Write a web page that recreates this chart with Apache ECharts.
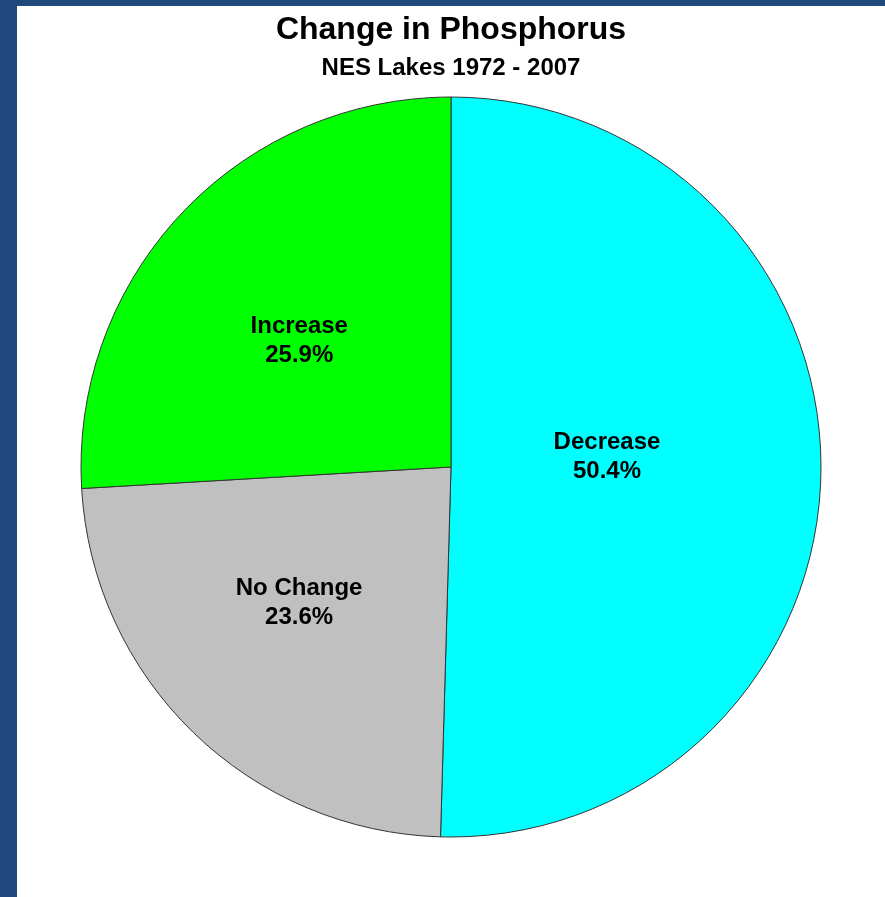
<!DOCTYPE html>
<html>
<head>
<meta charset="utf-8">
<script src="https://cdn.jsdelivr.net/npm/echarts@6/dist/echarts.min.js"></script>
<style>
  html, body { margin: 0; padding: 0; background: #1f497d; }
  #phosphorusPieChart { position: absolute; left: 17px; top: 6px; width: 868px; height: 891px; background: #fff; }
</style>
</head>
<body>
<div id="phosphorusPieChart"></div>
<script>
// 数据
const chartTitle = 'Change in Phosphorus'
const chartSubtitle = 'NES Lakes 1972 - 2007'
const categories = ['Decrease', 'No Change', 'Increase']
const percentValues = [50.4, 23.6, 25.9]
const sliceColors = ['#00ffff', '#c0c0c0', '#00ff00']
// label nudges (px) so text sits like the original
const labelNudge = [[-32, -13], [-21, 1], [-15, 3]]

const fontFamily = '"Liberation Sans", Arial, Helvetica, sans-serif'

const phosphorusPieChart = echarts.init(document.getElementById('phosphorusPieChart'))
const option = {
  animation: false,
  title: [
    {
      text: chartTitle,
      left: 'center',
      top: 3,
      textStyle: { fontFamily, fontSize: 32, fontWeight: 'bold', color: '#000' }
    },
    {
      text: chartSubtitle,
      left: 'center',
      top: 45,
      textStyle: { fontFamily, fontSize: 24, fontWeight: 'bold', color: '#000' }
    }
  ],
  series: [
    {
      type: 'pie',
      center: [434, 461],
      radius: 370,
      startAngle: 90,
      clockwise: true,
      avoidLabelOverlap: false,
      itemStyle: {
        borderColor: '#333',
        borderWidth: 1
      },
      label: {
        show: true,
        position: 'inside',
        formatter: '{b}\n{c}%',
        fontFamily,
        fontSize: 24,
        fontWeight: 'bold',
        lineHeight: 29,
        color: '#000'
      },
      labelLine: { show: false },
      labelLayout: function (params) {
        const n = labelNudge[params.dataIndex]
        return { dx: n[0], dy: n[1] }
      },
      emphasis: { disabled: true },
      data: categories.map((name, i) => ({
        name,
        value: percentValues[i],
        itemStyle: { color: sliceColors[i] }
      }))
    }
  ]
}
phosphorusPieChart.setOption(option, true)
</script>
</body>
</html>
